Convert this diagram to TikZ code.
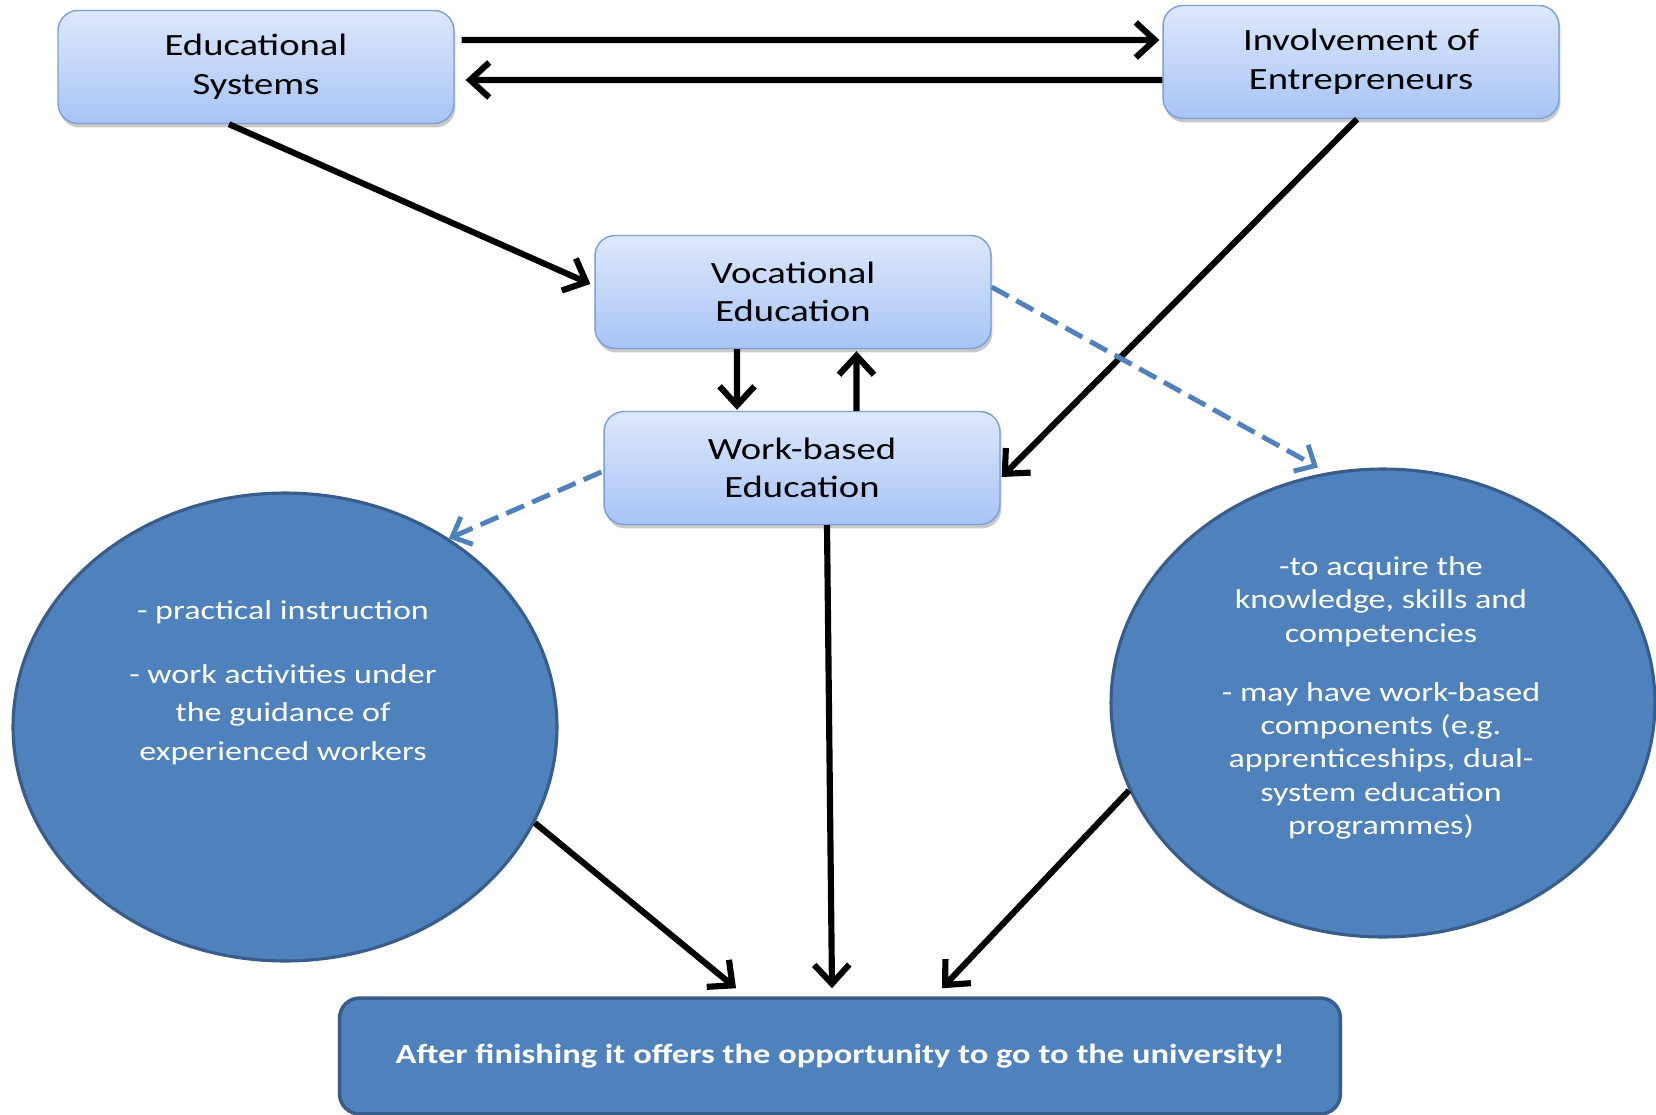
\documentclass[tikz,border=0pt]{standalone}
\usepackage{fontspec}
\setmainfont[FakeStretch=1.25]{Carlito}
\usetikzlibrary{arrows.meta,shapes.geometric,shadows}
\definecolor{boxtop}{HTML}{DDE8FB}
\definecolor{boxbottom}{HTML}{A7C4F6}
\definecolor{boxline}{HTML}{7B9FD6}
\definecolor{officeblue}{HTML}{4F81BD}
\definecolor{darkline}{HTML}{385D8A}
\tikzset{
  topbox/.style={draw=boxline, line width=0.8pt, rounded corners=0.4cm,
    top color=boxtop, bottom color=boxbottom,
    minimum width=7.92cm, minimum height=2.26cm, align=center,
    font=\fontsize{17.6}{22}\selectfont,
    drop shadow={shadow xshift=0.03cm, shadow yshift=-0.08cm, opacity=0.3, fill=black!70}},
  bubble/.style={ellipse, draw=darkline, line width=1.8pt, fill=officeblue,
    minimum width=10.88cm, minimum height=9.36cm},
  bubbletext/.style={text=white, align=center},
  finalbox/.style={draw=darkline, line width=2pt, fill=officeblue, rounded corners=0.4cm,
    minimum width=20.02cm, minimum height=2.32cm, text=white,
    font=\fontsize{15.7}{19}\selectfont\bfseries},
  link/.style={-{Straight Barb[length=0.38cm, width=0.7cm]}, line width=3.5pt},
  hint/.style={-{Straight Barb[length=0.32cm, width=0.6cm]}, officeblue, line width=2.8pt,
    dash pattern=on 11pt off 5pt}
}
\begin{document}
\begin{tikzpicture}[x=0.02cm, y=-0.02cm]
  \useasboundingbox (0,0) rectangle (1656,1115);
  \draw
    (256,67) node[topbox] (edu) {Educational\\Systems}
    (1361,62) node[topbox] (inv) {Involvement of\\Entrepreneurs}
    (793,292) node[topbox] (voc) {Vocational\\Education}
    (802,468) node[topbox] (work) {Work-based\\Education}
    (285,727) node[bubble] (practice) {}
    (1383,703) node[bubble] (goals) {}
    (840,1056) node[finalbox] (uni) {After finishing it offers the opportunity to go to the university!};
  \draw
    (283,683) node[bubbletext, font=\fontsize{15.5}{22}\selectfont] (practicetxt)
      {- practical instruction\\[14pt]- work activities under\\the guidance of\\experienced workers}
    (1381,698) node[bubbletext, font=\fontsize{15.5}{19}\selectfont] (goalstxt)
      {-to acquire the\\knowledge, skills and\\competencies\\[14.5pt]- may have work-based\\components (e.g.\\apprenticeships, dual-\\system education\\programmes)};
  \begin{scope}[link]
    \draw ([xshift=0.14cm, yshift=0.54cm]edu.east) to ([xshift=-0.06cm, yshift=0.44cm]inv.west);
    \draw ([yshift=-0.36cm]inv.west) to ([xshift=0.22cm, yshift=-0.26cm]edu.east);
    \draw ([xshift=-0.54cm]edu.south) to ([xshift=-0.08cm, yshift=0.16cm]voc.west);
    \draw ([xshift=-0.08cm]inv.south) to ([xshift=0.02cm, yshift=-0.18cm]work.east);
    \draw ([xshift=-1.12cm]voc.south) to ([xshift=-1.3cm, yshift=0.02cm]work.north);
    \draw ([xshift=1.09cm]work.north) to ([xshift=1.27cm, yshift=-0.04cm]voc.south);
    \draw (practice.-21) to ([xshift=-2.08cm, yshift=0.16cm]uni.north);
    \draw ([xshift=0.5cm]work.south) to ([xshift=-0.16cm, yshift=0.16cm]uni.north);
    \draw (goals.199) to ([xshift=2.04cm, yshift=0.16cm]uni.north);
  \end{scope}
  \begin{scope}[hint]
    \draw ([yshift=0.1cm]voc.east) to ([xshift=-1.3cm]goals.north);
    \draw ([xshift=-0.04cm, yshift=-0.08cm]work.west) to (practice.49);
  \end{scope}
\end{tikzpicture}
\end{document}
